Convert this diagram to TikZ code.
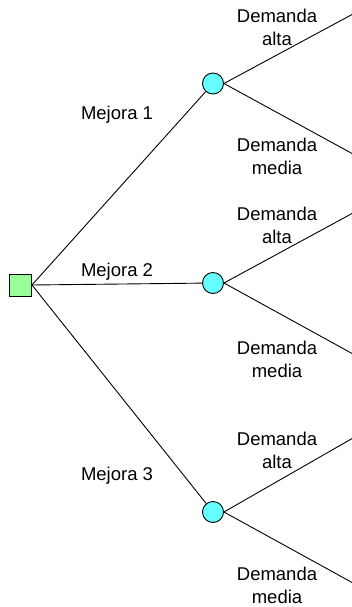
\documentclass[tikz,border=0pt]{standalone}
\usepackage{fontspec}
\setmainfont{Liberation Sans}
\definecolor{sqfill}{RGB}{153,255,153}
\definecolor{cfill}{RGB}{102,255,255}
\begin{document}
\begin{tikzpicture}[x=1pt,y=-1pt,
  decision/.style={draw=black,fill=sqfill,minimum size=22pt,inner sep=0pt,line width=0.9pt},
  chance/.style={circle,draw=black,fill=cfill,minimum size=21pt,inner sep=0pt,line width=0.9pt},
  branch/.style={line width=0.9pt},
  lbl/.style={font=\fontsize{18.5}{23}\selectfont,align=center,inner sep=0pt}]
\useasboundingbox (0,0) rectangle (352,607);
\node[decision] (d) at (20.5,285) {};
\node[chance] (c1) at (213,83.5) {};
\node[chance] (c2) at (213,283) {};
\node[chance] (c3) at (213,512) {};
\coordinate (e1a) at (353,14);
\coordinate (e1b) at (353,154);
\coordinate (e2a) at (353,213);
\coordinate (e2b) at (353,354);
\coordinate (e3a) at (353,438);
\coordinate (e3b) at (353,583);
\draw[branch] (d.east) -- (c1);
\draw[branch] (d.east) -- (c2);
\draw[branch] (d.east) -- (c3);
\draw[branch] (c1.east) -- (e1a);
\draw[branch] (c1.east) -- (e1b);
\draw[branch] (c2.east) -- (e2a);
\draw[branch] (c2.east) -- (e2b);
\draw[branch] (c3.east) -- (e3a);
\draw[branch] (c3.east) -- (e3b);
\node[lbl] (m1) at (117,115) {Mejora 1};
\node[lbl] (m2) at (117,272) {Mejora 2};
\node[lbl] (m3) at (117,476) {Mejora 3};
\node[lbl] (a1) at (277,27) {Demanda\\alta};
\node[lbl] (b1) at (277,156) {Demanda\\media};
\node[lbl] (a2) at (277,225) {Demanda\\alta};
\node[lbl] (b2) at (277,359) {Demanda\\media};
\node[lbl] (a3) at (277,450) {Demanda\\alta};
\node[lbl] (b3) at (277,585) {Demanda\\media};
\end{tikzpicture}
\end{document}
